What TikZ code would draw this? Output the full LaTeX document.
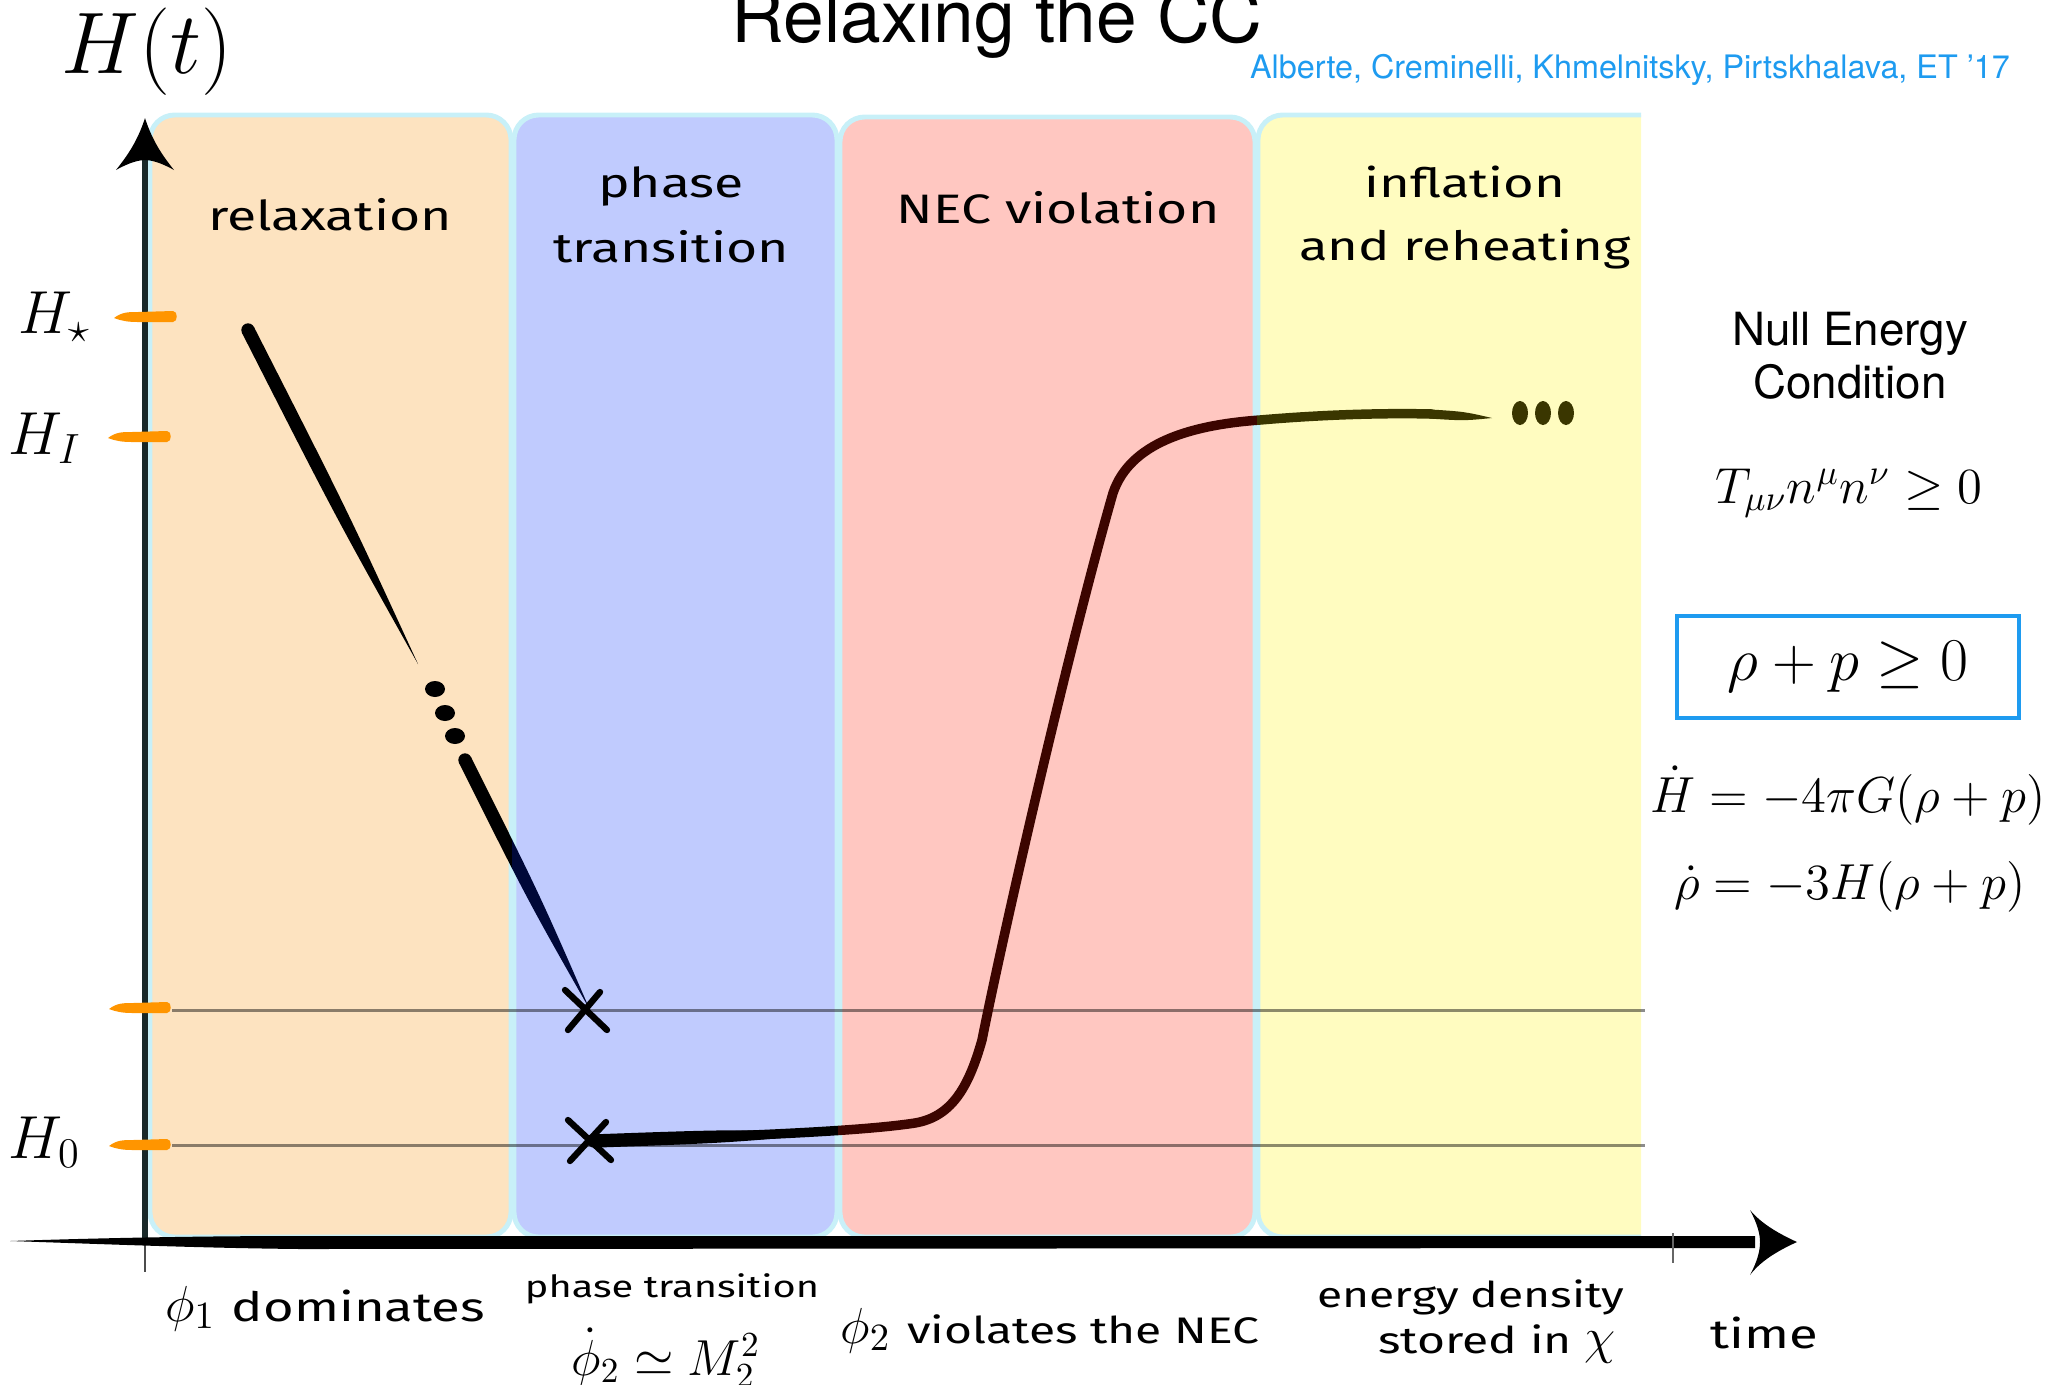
\documentclass[tikz,border=0pt]{standalone}
\usepackage{fontspec}
\usetikzlibrary{calc}
\newfontfamily\hand[FakeStretch=1.3]{Fira Sans}
\newfontfamily\helv{TeX Gyre Heros}
\definecolor{relaxc}{RGB}{253,227,192}
\definecolor{phasec}{RGB}{192,203,254}
\definecolor{necc}{RGB}{255,199,193}
\definecolor{inflc}{RGB}{255,252,192}
\definecolor{edgec}{RGB}{200,240,248}
\definecolor{citec}{RGB}{30,155,240}
\definecolor{tickc}{RGB}{255,149,0}
\definecolor{axisc}{RGB}{25,40,40}
\definecolor{navyc}{RGB}{0,8,56}
\definecolor{redc}{RGB}{60,5,0}
\definecolor{olivec}{RGB}{58,54,0}
% brush: round start at #2, pointed end at #3, half width #4
\newcommand{\brush}[4]{%
  \fill[#1] ($(#2)!#4!90:(#3)$) .. controls ($(#2)!0.55!(#3)!#4!90:(#3)$) .. (#3)
     .. controls ($(#2)!0.55!(#3)!#4!-90:(#3)$) .. ($(#2)!#4!-90:(#3)$) -- cycle;
  \fill[#1] (#2) circle[radius=#4];}
\newcommand{\otick}[3]{%
  \begin{scope}[shift={(0,#1)}]
  \fill[tickc] (#2,1) .. controls (#2+8,-5) and (#2+14,-5) .. (#2+24,-5) -- (#3-3,-6)
     .. controls (#3+2,-6) and (#3+2,5) .. (#3-3,5) -- (#2+24,5)
     .. controls (#2+14,5) and (#2+8,4) .. cycle;
  \end{scope}}
\tikzset{
  region/.style={draw=edgec, line width=1.4pt, rounded corners=7pt},
  lbl/.style={inner sep=0pt, anchor=base},
  toplbl/.style={lbl, font=\hand\fontsize{11.7}{14}\selectfont},
  botlbl/.style={lbl, font=\fontsize{15.5}{18}\selectfont},
  hcurve/.style={line width=2.7pt, line cap=round},
  guide/.style={black, opacity=0.45, line width=0.85pt},
  xmark/.style={line width=1.8pt, line cap=round}
}
\begin{document}
\begin{tikzpicture}[x=0.01cm, y=-0.01cm]
\useasboundingbox (0,0) rectangle (2069,1384);

% regions
\path[region, fill=relaxc] (150,115) rectangle (511,1237);
\path[region, fill=phasec] (514,115) rectangle (837,1237);
\path[region, fill=necc] (840,117) rectangle (1255,1237);
\begin{scope}
  \clip (1200,0) rectangle (1641,1384);
  \path[region, fill=inflc] (1258,115) rectangle (1720,1237);
\end{scope}

% guide lines
\draw[guide] (172,1010) -- (1645,1010);
\draw[guide] (172,1145) -- (1645,1145);

% relaxation descent
\brush{black}{248,330}{418,664}{1.9pt}
\fill[black] (435,689) ellipse[x radius=10, y radius=8];
\fill[black] (445,713) ellipse[x radius=10, y radius=8];
\fill[black] (455,736) ellipse[x radius=10, y radius=8];
\foreach \c/\xa/\xb in {black/0/512, navyc/512/2069}{
  \begin{scope}
    \clip (\xa,0) rectangle (\xb,1384);
    \brush{\c}{465,760}{590,1010}{1.9pt}
  \end{scope}}

% crosses
\coordinate (xa) at (586,1010);
\coordinate (xb) at (589,1141);
\draw[xmark] (565,990) -- (607,1030) (600,992) -- (568,1030);
\draw[xmark] (568,1120) -- (611,1160) (606,1122) -- (570,1161);

% main curve
\foreach \c/\xa/\xb in {black/0/838, redc/838/1257, olivec/1257/2069}{
  \begin{scope}
    \clip (\xa,0) rectangle (\xb,1384);
    \draw[hcurve, \c] (592,1141) .. controls (700,1137) and (850,1133) .. (915,1123)
      .. controls (950,1117) and (968,1090) .. (982,1040)
      .. controls (1004,930) and (1068,650) .. (1113,493)
      .. controls (1130,443) and (1190,425) .. (1260,420)
      .. controls (1330,414) and (1390,413) .. (1432,414);
    \brush{\c}{594,1141}{845,1132}{1.9pt}
  \end{scope}}
\brush{olivec}{1430,414}{1492,418}{1.3pt}
\fill[olivec] (1520,413) ellipse[x radius=8, y radius=12];
\fill[olivec] (1543,413) ellipse[x radius=8, y radius=12];
\fill[olivec] (1566,413) ellipse[x radius=8, y radius=12];

% axes
\draw[axisc, line width=1.7pt] (145,160) -- (145,1242);
\draw[black!70, line width=0.4pt] (145,1242) -- (145,1272);
\fill[black] (145,118) .. controls (152,140) and (162,155) .. (174,170)
   .. controls (160,162) and (150,160) .. (145,160)
   .. controls (140,160) and (130,162) .. (116,170)
   .. controls (128,155) and (138,140) .. cycle;
\fill[black] (10,1241) .. controls (100,1238) and (200,1236) .. (300,1236) -- (1755,1236)
   -- (1755,1248) -- (300,1249) .. controls (200,1248) and (100,1244) .. cycle;
\fill[black] (1797,1242) .. controls (1775,1232) and (1760,1222) .. (1750,1210)
   .. controls (1758,1225) and (1760,1235) .. (1760,1242)
   .. controls (1760,1250) and (1758,1260) .. (1750,1275)
   .. controls (1760,1262) and (1775,1252) .. cycle;
\draw[black!60, line width=0.3pt] (1673,1233) -- (1673,1263);

% ticks
\otick{317}{114}{176}
\otick{437}{108}{170}
\otick{1008}{109}{170}
\otick{1145}{109}{170}

% axis labels
\node[lbl, font=\fontsize{23.3}{28}\selectfont] (Ht) at (147,73) {$H(t)$};
\node[inner sep=0pt, anchor=base west, font=\fontsize{18.5}{22}\selectfont] (Hstar) at (18,333) {$H_\star$};
\node[inner sep=0pt, anchor=base west, font=\fontsize{18.5}{22}\selectfont] (HI) at (8,454) {$H_I$};
\node[inner sep=0pt, anchor=base west, font=\fontsize{18.5}{22}\selectfont] (H0) at (8,1158) {$H_0$};

% title and citation
\node[lbl, font=\helv\fontsize{20.8}{25}\selectfont] (title) at (997,42) {Relaxing the CC};
\node[lbl, font=\helv\fontsize{9.2}{11}\selectfont, text=citec] (cite) at (1630,78)
  {Alberte, Creminelli, Khmelnitsky, Pirtskhalava, ET ’17};

% region titles
\node[toplbl] (relax) at (330,230) {relaxation};
\node[toplbl] (phaseA) at (671,197) {phase};
\node[toplbl] (phaseB) at (671,262) {transition};
\node[toplbl] (necv) at (1058,223) {NEC violation};
\node[toplbl, font=\hand\fontsize{11.5}{14}\selectfont] (inflA) at (1465,197) {inflation};
\node[toplbl, font=\hand\fontsize{11.5}{14}\selectfont] (inflB) at (1465,260) {and reheating};

% right panel
\node[lbl, font=\helv\fontsize{13}{15}\selectfont] (necA) at (1850,345) {Null Energy};
\node[lbl, font=\helv\fontsize{13}{15}\selectfont] (necB) at (1850,398) {Condition};
\node[lbl, font=\fontsize{14.5}{17}\selectfont] (tmunu) at (1849,503) {$T_{\mu\nu}n^\mu n^\nu\geq 0$};
\node[draw=citec, line width=1.2pt, minimum width=3.42cm, minimum height=1.02cm, inner sep=0pt,
  font=\fontsize{17.5}{21}\selectfont] (rhop) at (1848,667) {$\rho+p\geq 0$};
\node[lbl, font=\fontsize{14.2}{17}\selectfont] (hdot) at (1848,812) {$\dot H = -4\pi G(\rho+p)$};
\node[lbl, font=\fontsize{14.2}{17}\selectfont] (rhodot) at (1850,899) {$\dot\rho = -3H(\rho+p)$};

% bottom labels
\node[botlbl] (dom) at (325,1321) {$\phi_1$ {\hand\fontsize{11.5}{14}\selectfont dominates}};
\node[lbl, font=\hand\fontsize{8.7}{11}\selectfont] (ptsmall) at (672,1297) {phase transition};
\node[lbl, font=\fontsize{14}{17}\selectfont] (phidot) at (666,1375) {$\dot\phi_2\simeq M_2^2$};
\node[botlbl] (viol) at (1050,1343) {$\phi_2$ {\hand\fontsize{10.5}{14}\selectfont violates the NEC}};
\node[lbl, font=\hand\fontsize{10.1}{13}\selectfont] (enA) at (1471,1307) {energy density};
\node[lbl, font=\hand\fontsize{10.5}{13}\selectfont] (enB) at (1497,1353) {stored in {\fontsize{15.5}{18}\selectfont$\chi$}};
\node[lbl, font=\hand\fontsize{11.5}{14}\selectfont] (time) at (1764,1348) {time};
\end{tikzpicture}
\end{document}
